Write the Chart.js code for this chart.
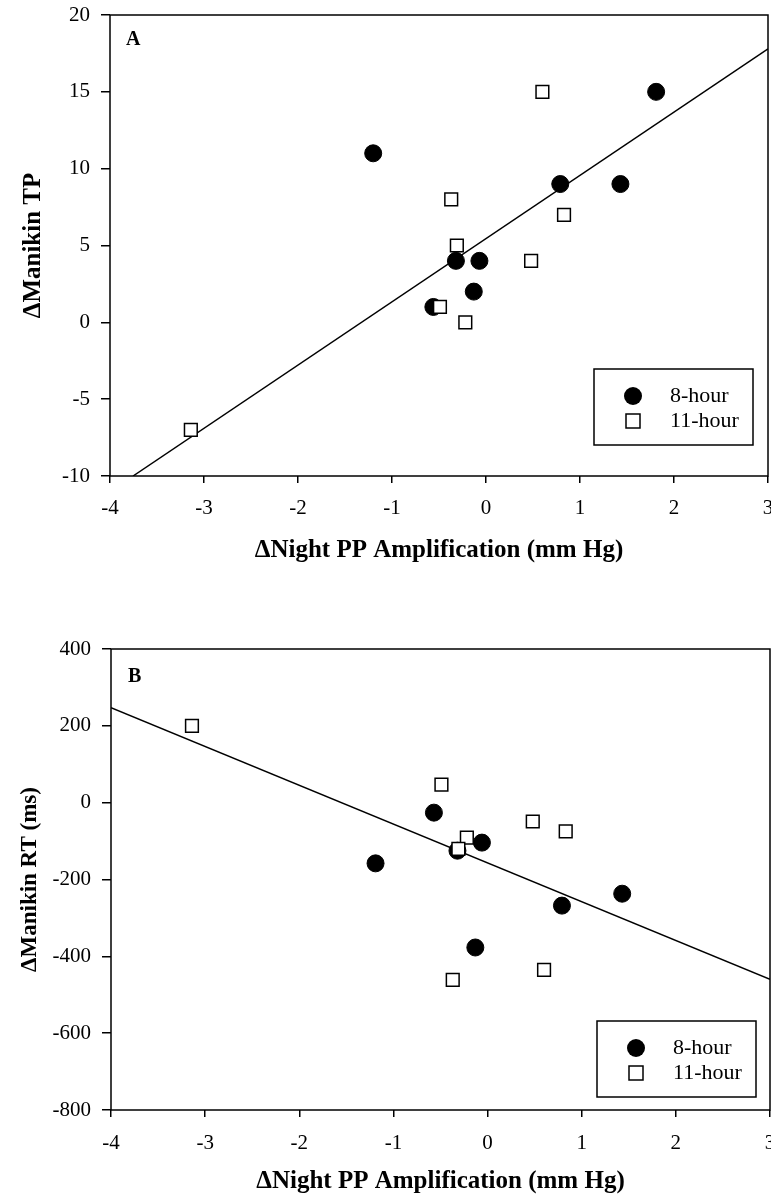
<!DOCTYPE html>
<html>
<head>
<meta charset="utf-8">
<title>Manikin vs Night PP Amplification</title>
<script src="https://cdn.jsdelivr.net/npm/chart.js@4.4.1/dist/chart.umd.min.js"></script>
<style>
  html, body { margin: 0; padding: 0; background: #fff; overflow: hidden; }
  body { width: 771px; height: 1199px; position: relative; overflow: hidden; }
  canvas { position: absolute; left: 0; }
  #chartA { top: -40px; }
  #chartB { top: 600px; }
</style>
</head>
<body>
<canvas id="chartA" width="800" height="640"></canvas>
<canvas id="chartB" width="800" height="599"></canvas>
<script>
const SERIF = '"Liberation Serif", "Times New Roman", serif';

const seriesLabels = ["8-hour", "11-hour"];
const xTitle = "\u0394Night PP Amplification (mm Hg)";

// x axis, same for both panels
const ampMin = -4, ampMax = 3, ampStep = 1;

// Panel A - ΔManikin TP
const tpMin = -10, tpMax = 20, tpStep = 5;
const amp8A = [-1.20, 1.81, 0.79, 1.43, -0.32, -0.07, -0.13, -0.56];
const tp8A = [11, 15, 9, 9, 4, 4, 2, 1];
const amp11A = [0.60, -0.37, 0.83, -0.31, 0.48, -0.49, -0.22, -3.14];
const tp11A = [15, 8, 7, 5, 4, 1, 0, -7];
const fitAmpA = [-3.755, 3];
const fitTpA = [-10, 17.8];

// Panel B - ΔManikin RT (ms)
const rtMin = -800, rtMax = 400, rtStep = 200;
const amp8B = [-1.19, -0.57, -0.06, -0.32, 0.79, 1.43, -0.13];
const rt8B = [-158, -26, -104, -125, -268, -237, -377];
const amp11B = [-3.14, -0.49, 0.48, 0.83, -0.22, -0.31, -0.37, 0.60];
const rt11B = [200, 47, -49, -75, -91, -120, -461, -435];
const fitAmpB = [-4, 3];
const fitRtB = [247, -460];

function toPoints(xs, ys) {
    return xs.map((x, i) => ({ x: x, y: ys[i] }));
}

// frame, panel letter and the boxed legend inside the plot
const panelDecor = {
    id: "panelDecor",
    afterDatasetsDraw(chart, args, opts) {
        const ctx = chart.ctx;
        const a = chart.chartArea;
        ctx.save();
        ctx.strokeStyle = "#000";
        ctx.lineWidth = 1.5;
        ctx.strokeRect(a.left, a.top, a.right - a.left, a.bottom - a.top);

        ctx.fillStyle = "#000";
        ctx.font = "bold 20px " + SERIF;
        ctx.textBaseline = "alphabetic";
        ctx.textAlign = "left";
        ctx.fillText(opts.letter, a.left + opts.letterDx, a.top + opts.letterDy);

        const w = 159, h = 76;
        const bx = a.right - opts.legendRight - w;
        const by = a.bottom - opts.legendBottom - h;
        ctx.fillStyle = "#fff";
        ctx.fillRect(bx, by, w, h);
        ctx.strokeRect(bx, by, w, h);

        // 8-hour: filled circle
        ctx.fillStyle = "#000";
        ctx.beginPath();
        ctx.arc(bx + 39, by + 27, 9, 0, Math.PI * 2);
        ctx.fill();
        // 11-hour: open square
        ctx.fillStyle = "#fff";
        ctx.fillRect(bx + 32, by + 45, 14, 14);
        ctx.strokeRect(bx + 32, by + 45, 14, 14);

        ctx.fillStyle = "#000";
        ctx.font = "22px " + SERIF;
        ctx.textBaseline = "middle";
        ctx.fillText(chart.data.datasets[0].label, bx + 76, by + 27);
        ctx.fillText(chart.data.datasets[1].label, bx + 76, by + 52);
        ctx.restore();
    }
};

function buildPanel(canvasId, p) {
    const ctx = document.getElementById(canvasId).getContext("2d");
    return new Chart(ctx, {
        type: "scatter",
        data: {
            datasets: [
                {
                    label: seriesLabels[0],
                    data: toPoints(p.x8, p.y8),
                    pointStyle: "circle",
                    pointRadius: 8.5,
                    pointBackgroundColor: "#000",
                    pointBorderColor: "#000",
                    pointBorderWidth: 1,
                    order: 2
                },
                {
                    label: seriesLabels[1],
                    data: toPoints(p.x11, p.y11),
                    pointStyle: "rect",
                    pointRadius: 9,
                    pointBackgroundColor: "#fff",
                    pointBorderColor: "#000",
                    pointBorderWidth: 1.5,
                    order: 1
                },
                {
                    label: "fit",
                    data: toPoints(p.fitX, p.fitY),
                    showLine: true,
                    pointRadius: 0,
                    borderColor: "#000",
                    borderWidth: 1.5,
                    order: 3
                }
            ]
        },
        options: {
            responsive: false,
            animation: false,
            devicePixelRatio: 1,
            layout: { padding: p.padding },
            plugins: {
                legend: { display: false },
                tooltip: { enabled: false },
                panelDecor: {
                    letter: p.letter, letterDx: p.letterDx, letterDy: p.letterDy,
                    legendRight: p.legendRight, legendBottom: p.legendBottom
                }
            },
            scales: {
                x: {
                    type: "linear",
                    min: ampMin,
                    max: ampMax,
                    afterFit: s => { s.height = p.xHeight; },
                    border: { display: false },
                    grid: { drawOnChartArea: false, drawTicks: true, tickLength: 7, color: "#000", lineWidth: 1.5 },
                    ticks: { stepSize: ampStep, color: "#000", padding: p.xTickPad, font: { family: SERIF, size: 21 } },
                    title: {
                        display: true,
                        text: xTitle,
                        color: "#000",
                        font: { family: SERIF, size: 25, weight: "bold" },
                        padding: { top: 0, bottom: p.xTitlePad }
                    }
                },
                y: {
                    type: "linear",
                    min: p.yMin,
                    max: p.yMax,
                    afterFit: s => { s.width = p.yWidth; },
                    border: { display: false },
                    grid: { drawOnChartArea: false, drawTicks: true, tickLength: 9, color: "#000", lineWidth: 1.5 },
                    ticks: { stepSize: p.yStep, color: "#000", padding: 11, font: { family: SERIF, size: 21 } },
                    title: {
                        display: true,
                        text: p.yTitle,
                        color: "#000",
                        font: { family: SERIF, size: p.yTitleSize, weight: "bold" },
                        padding: { top: p.yTitlePad, bottom: 0 }
                    }
                }
            }
        },
        plugins: [panelDecor]
    });
}

document.addEventListener("DOMContentLoaded", function () {
    buildPanel("chartA", {
        x8: amp8A, y8: tp8A, x11: amp11A, y11: tp11A, fitX: fitAmpA, fitY: fitTpA,
        yMin: tpMin, yMax: tpMax, yStep: tpStep, yTitle: "\u0394Manikin TP",
        yTitleSize: 25, yTitlePad: 19,
        letter: "A", letterDx: 16, letterDy: 30, legendRight: 15, legendBottom: 31,
        padding: { top: 55, left: 0, right: 32, bottom: 0 },
        yWidth: 110, xHeight: 124, xTickPad: 13, xTitlePad: 34
    });
    buildPanel("chartB", {
        x8: amp8B, y8: rt8B, x11: amp11B, y11: rt11B, fitX: fitAmpB, fitY: fitRtB,
        yMin: rtMin, yMax: rtMax, yStep: rtStep, yTitle: "\u0394Manikin RT (ms)",
        yTitleSize: 23, yTitlePad: 16,
        letter: "B", letterDx: 17, letterDy: 33, legendRight: 14, legendBottom: 13,
        padding: { top: 49, left: 0, right: 30, bottom: 0 },
        yWidth: 111, xHeight: 89, xTickPad: 14, xTitlePad: 2
    });
});
</script>
</body>
</html>
